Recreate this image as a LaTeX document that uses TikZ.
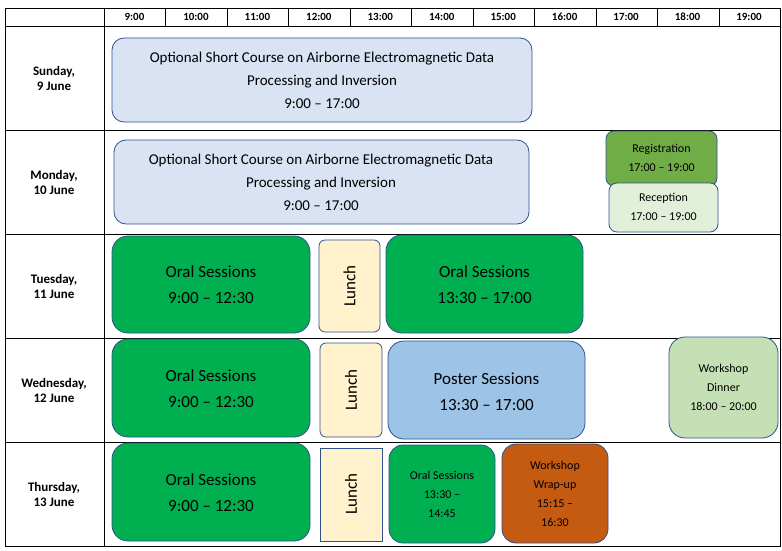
\documentclass[tikz,border=0pt]{standalone}
\usepackage{fontspec}
\setmainfont{Carlito}
\begin{document}
\begin{tikzpicture}[x=1pt,y=-1pt,
 ev/.style={draw=black!60!blue!80, line width=0.8pt, rounded corners=12pt, align=center, inner sep=2pt},
 day/.style={font=\fontsize{13}{15}\selectfont\bfseries, align=center},
 hd/.style={font=\fontsize{11}{13}\selectfont\bfseries}]
\definecolor{bord}{HTML}{2F528F}
\definecolor{lblue}{HTML}{DAE3F3}
\definecolor{ogreen}{HTML}{00B050}
\definecolor{rgreen}{HTML}{70AD47}
\definecolor{pgreen}{HTML}{E2F0D9}
\definecolor{dgreen}{HTML}{C5E0B4}
\definecolor{lunchc}{HTML}{FFF2CC}
\definecolor{poster}{HTML}{9DC3E6}
\definecolor{wrap}{HTML}{C55A11}
\tikzset{ev/.append style={draw=bord}}
\useasboundingbox (0,0) rectangle (782,551);
% grid
\draw[line width=0.7pt] (5,8) rectangle (780,546);
\draw[line width=0.7pt] (104,8) -- (104,546);
\foreach \y in {26,130,234,338,442} \draw[line width=0.7pt] (5,\y) -- (780,\y);
\foreach \x in {165,227,288,350,411,473,534,596,657,719} \draw[line width=0.7pt] (\x,8) -- (\x,26);
\foreach \t [count=\i from 0] in {9:00,10:00,11:00,12:00,13:00,14:00,15:00,16:00,17:00,18:00,19:00}
  \node[hd] (h\i) at ({134.5+61.45*\i},17) {\t};
\node[day] (d1) at (54,78) {Sunday,\\9 June};
\node[day] (d2) at (54,182) {Monday,\\10 June};
\node[day] (d3) at (54,286) {Tuesday,\\11 June};
\node[day] (d4) at (54,390) {Wednesday,\\12 June};
\node[day] (d5) at (54,494) {Thursday,\\13 June};
% events
\def\sc{Optional Short Course on Airborne Electromagnetic Data\\Processing and Inversion\\9:00 -- 17:00}
\draw[ev,fill=lblue] (112,38) rectangle (532,122);
\node[align=center,font=\fontsize{15}{23}\selectfont] (sun) at (322,80) {\sc};
\draw[ev,fill=lblue] (114,140) rectangle (529,224);
\node[align=center,font=\fontsize{15}{23}\selectfont] (mon) at (321,182) {\sc};
\draw[ev,rounded corners=8pt,fill=rgreen] (606,131) rectangle (717,186);
\node[align=center,font=\fontsize{12}{19}\selectfont] (reg) at (661.5,158) {Registration\\17:00 -- 19:00};
\draw[ev,rounded corners=8pt,fill=pgreen] (609,183) rectangle (718,232);
\node[align=center,font=\fontsize{12}{19}\selectfont] (rec) at (663.5,207) {Reception\\17:00 -- 19:00};
% Tuesday
\draw[ev,rounded corners=16pt,fill=ogreen] (112,236) rectangle (310,333);
\node[align=center,font=\fontsize{17}{26}\selectfont] (t1) at (211,285) {Oral Sessions\\9:00 -- 12:30};
\draw[ev,rounded corners=6pt,fill=lunchc] (319,240) rectangle (380,332);
\node[rotate=90,font=\fontsize{17}{20}\selectfont] (tl) at (349.5,286) {Lunch};
\draw[ev,rounded corners=16pt,fill=ogreen] (386,235) rectangle (583,333);
\node[align=center,font=\fontsize{17}{26}\selectfont] (t2) at (484.5,285) {Oral Sessions\\13:30 -- 17:00};
% Wednesday
\draw[ev,rounded corners=16pt,fill=ogreen] (112,339) rectangle (310,437);
\node[align=center,font=\fontsize{17}{26}\selectfont] (w1) at (211,389) {Oral Sessions\\9:00 -- 12:30};
\draw[ev,rounded corners=6pt,fill=lunchc] (320,343) rectangle (382,437);
\node[rotate=90,font=\fontsize{17}{20}\selectfont] (wl) at (351,390) {Lunch};
\draw[ev,rounded corners=16pt,fill=poster] (388,341) rectangle (585,439);
\node[align=center,font=\fontsize{17}{26}\selectfont] (w2) at (486.5,392) {Poster Sessions\\13:30 -- 17:00};
\draw[ev,rounded corners=16pt,fill=dgreen] (669,337) rectangle (778,438);
\node[align=center,font=\fontsize{12}{19}\selectfont] (wd) at (723.5,387) {Workshop\\Dinner\\18:00 -- 20:00};
% Thursday
\draw[ev,rounded corners=16pt,fill=ogreen] (112,443) rectangle (310,541);
\node[align=center,font=\fontsize{17}{26}\selectfont] (r1) at (211,493) {Oral Sessions\\9:00 -- 12:30};
\draw[draw=bord,line width=0.8pt,fill=lunchc] (320,448) rectangle (382,541);
\node[rotate=90,font=\fontsize{17}{20}\selectfont] (rl) at (351,494) {Lunch};
\draw[ev,rounded corners=14pt,fill=ogreen] (389,445) rectangle (495,543);
\node[align=center,font=\fontsize{12}{19}\selectfont] (r2) at (442,494) {Oral Sessions\\13:30 --\\14:45};
\draw[ev,rounded corners=14pt,fill=wrap] (502,444) rectangle (608,543);
\node[align=center,font=\fontsize{12}{19}\selectfont] (r3) at (555,494) {Workshop\\Wrap-up\\15:15 --\\16:30};
\end{tikzpicture}
\end{document}
